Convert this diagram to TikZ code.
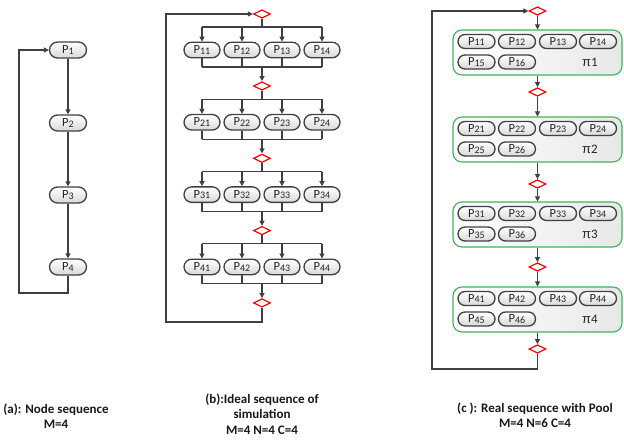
\documentclass[tikz,border=0pt]{standalone}
\usepackage{fontspec}
\setmainfont{Carlito}
\newfontfamily\pifont{Liberation Sans}
\usetikzlibrary{shapes.misc,shapes.geometric,arrows.meta}
\definecolor{dk}{HTML}{404040}
\definecolor{grn}{HTML}{3DB556}
\newcommand\plab[1]{P{\fontsize{10}{10}\selectfont\raisebox{-0.15ex}{#1}}}
\tikzset{
  proc/.style={rounded rectangle, draw=dk, line width=1.3pt, top color=white, bottom color=black!15,
    minimum width=36pt, minimum height=15.5pt, inner sep=0pt, font=\fontsize{12.5}{13}\selectfont, text=black!85},
  procc/.style={proc, minimum width=37pt, minimum height=14pt},
  dia/.style={diamond, draw=red, fill=white, line width=1.2pt, minimum width=17pt, minimum height=8.5pt, inner sep=0pt},
  arr/.style={draw=dk, line width=1.1pt, -{Triangle[length=5pt,width=5pt]}},
  ln/.style={draw=dk, line width=1.1pt},
  pool/.style={draw=grn, line width=1.1pt, rounded corners=9pt, left color=white, right color=black!9,
    minimum width=169pt, minimum height=45pt, inner sep=0pt},
  pilab/.style={font=\fontsize{13}{13}\selectfont, text=black!85},
  captxt/.style={align=center, font=\bfseries\fontsize{13}{15.5}\selectfont, text=black!90}
}
\begin{document}
\begin{tikzpicture}[x=1pt,y=-1pt]
\useasboundingbox (0,0) rectangle (624,445);
% ---------- (a)
\foreach \i/\y in {1/50,2/123,3/195,4/267}
  \node[proc, minimum width=37pt, minimum height=16pt] (a\i) at (68,\y) {\plab{\i}};
\draw[arr] (a1.south) -- (a2.north);
\draw[arr] (a2.south) -- (a3.north);
\draw[arr] (a3.south) -- (a4.north);
\coordinate (la) at (19,293);
\draw[arr] (a4.south) |- (la) -- (la |- a1.west) -- (a1.west);
% ---------- (b)
\node[dia] (d0) at (262,14) {};
\foreach \r/\p/\y in {1/0/50,2/1/122.3,3/2/194.6,4/3/266.9}{
  \foreach \c/\x in {1/202,2/242,3/282,4/322}
    \node[proc] (b\r\c) at (\x,\y) {\plab{\r\c}};
  \coordinate (bb\r) at (262,\y-23);
  \coordinate (bm\r) at (262,\y+17);
  \node[dia] (d\r) at (262,\y+36) {};
  \draw[ln] (d\p.south) -- (bb\r);
  \draw[ln] (b\r1.north |- bb\r) -- (b\r4.north |- bb\r);
  \foreach \c in {1,2,3,4}{
    \draw[arr] (b\r\c.north |- bb\r) -- (b\r\c.north);
    \draw[ln] (b\r\c.south) -- (b\r\c.south |- bm\r);
  }
  \draw[ln] (b\r1.south |- bm\r) -- (b\r4.south |- bm\r);
  \draw[arr] (bm\r) -- (d\r.north);
}
\coordinate (lb) at (166,322);
\draw[arr] (d4.south) |- (lb) -- (lb |- d0.west) -- (d0.west);
% ---------- (c)
\node[dia] (e0) at (537.5,11) {};
\foreach \k/\t/\dy in {1/30/92,2/117/184,3/202/267,4/287/349}{
  \node[pool] (p\k) at (537.5,\t+22.5) {};
  \foreach \c/\x in {1/476.5,2/517,3/558,4/598}
    \node[procc] (c\k\c) at (\x,\t+11.5) {\plab{\k\c}};
  \node[procc] (c\k5) at (476.5,\t+32) {\plab{\k5}};
  \node[procc] (c\k6) at (517,\t+32) {\plab{\k6}};
  \node[pilab] (pi\k) at (590,\t+32) {{\pifont π}\k};
  \node[dia] (e\k) at (537.5,\dy) {};
  \draw[arr] (p\k.south) -- (e\k.north);
}
\draw[arr] (e0.south) -- (p1.north);
\draw[arr] (e1.south) -- (p2.north);
\draw[arr] (e2.south) -- (p3.north);
\draw[arr] (e3.south) -- (p4.north);
\coordinate (lc) at (432,369);
\draw[arr] (e4.south) |- (lc) -- (lc |- e0.west) -- (e0.west);
% ---------- captions
\node[captxt] (ta) at (56,416) {(a): Node sequence\\M=4};
\node[captxt] (tb) at (262,414) {(b):Ideal sequence of\\simulation\\M=4 N=4 C=4};
\node[captxt] (tc) at (535,415) {(c ): Real sequence with Pool\\M=4 N=6 C=4};
\end{tikzpicture}
\end{document}
